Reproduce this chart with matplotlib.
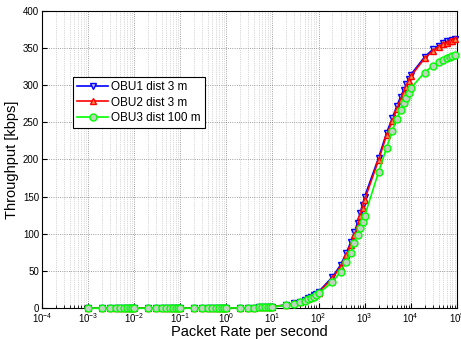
import numpy as np
import matplotlib
matplotlib.use('Agg')
import matplotlib.pyplot as plt

# packet rates: 1..9 x 10^-3 ... 1..9 x 10^4
rate = [m * 10.0**e for e in range(-3, 5) for m in range(1, 10)]

low = [0, 0, 0, 0, 0, 0, 0, 0, 0,
       0, 0, 0, 0, 0, 0, 0, 0, 0,
       0, 0, 0, 0, 0.1, 0.1, 0.1, 0.1, 0.2,
       0.2, 0.4, 0.6, 0.8, 1.0, 1.2, 1.4, 1.6, 1.8]

obu1 = low + [2.2, 4.3, 6.5, 8.7, 10.8, 13, 15, 17.5, 19.5,
              22, 42, 58, 74, 89, 102, 115, 128, 139,
              150, 202, 236, 256, 272, 284, 293, 301, 308,
              314, 338, 348, 353, 357, 359, 360, 361, 362]
obu2 = low + [2.1, 4.2, 6.3, 8.4, 10.5, 12.6, 14.6, 17, 19,
              21, 40, 56, 71, 85, 98, 110, 124, 135,
              146, 199, 233, 252, 268, 280, 290, 298, 305,
              312, 336, 346, 352, 355, 357, 359, 360, 362]
obu3 = low + [2.0, 3.9, 5.9, 7.9, 9.9, 11.8, 13.7, 15.6, 17.5,
              20, 35, 49, 62, 74, 88, 99, 108, 116,
              124, 183, 216, 239, 255, 266, 276, 283, 290,
              296, 317, 326, 331, 334, 336, 338, 339, 340]

labels = ['OBU1 dist 3 m', 'OBU2 dist 3 m', 'OBU3 dist 100 m']

plt.rcParams['font.family'] = ['Liberation Sans', 'DejaVu Sans']

fig = plt.figure(figsize=(4.61, 3.39), dpi=100)
ax = fig.add_subplot(111)
fig.subplots_adjust(left=0.091, right=0.991, top=0.968, bottom=0.091)

ax.plot(rate, obu1, '-v', color='b', mfc=(0.72, 0.75, 0.9), mec='b', ms=4.5, lw=1.2,
        label=labels[0], clip_on=False, zorder=3)
ax.plot(rate, obu2, '-^', color='r', mfc=(1.0, 0.55, 0.3), mec='r', ms=4.5, lw=1.2,
        label=labels[1], clip_on=False, zorder=3)
ax.plot(rate, obu3, '-o', color=(0, 1, 0), mfc=(0.75, 0.82, 0.75), mec=(0, 1, 0), ms=5, lw=1.2,
        label=labels[2], clip_on=False, zorder=3)

ax.set_xscale('log')
ax.set_xlim(1e-4, 1e5)
ax.set_ylim(0, 400)
ax.set_xticks([10.0**e for e in range(-4, 6)])
ax.set_yticks(range(0, 401, 50))
ax.grid(True, which='major', ls=':', color='0.5', lw=0.6)
ax.grid(True, which='minor', axis='x', ls=':', color='0.7', lw=0.5)
ax.tick_params(labelsize=7, direction='in', which='both', pad=2)
for s in ax.spines.values():
    s.set_linewidth(0.8)

ax.set_xlabel('Packet Rate per second', fontsize=10.5, labelpad=0)
ax.set_ylabel('Throughput [kbps]', fontsize=10.5, labelpad=3)

leg = ax.legend(loc='upper left', bbox_to_anchor=(0.075, 0.778), borderaxespad=0,
                fontsize=8.5, fancybox=False, framealpha=1, edgecolor='k',
                handlelength=2.6, labelspacing=0.3, borderpad=0.35, handletextpad=0.3)
leg.get_frame().set_linewidth(0.8)

fig.savefig('out.png', dpi=100)
